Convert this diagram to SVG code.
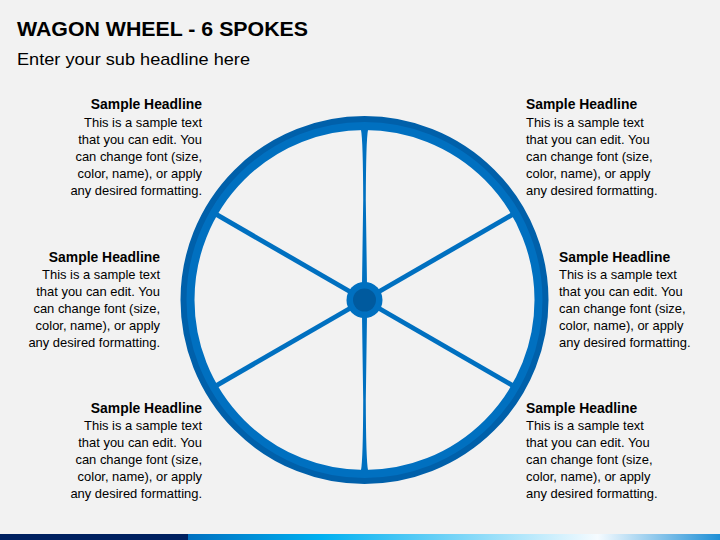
<svg xmlns="http://www.w3.org/2000/svg" width="720" height="540" viewBox="0 0 720 540">
  <defs>
    <linearGradient id="barGrad" x1="0" y1="0" x2="1" y2="0">
      <stop offset="0" stop-color="#0070C0"/>
      <stop offset="0.25" stop-color="#00B0F0"/>
      <stop offset="0.77" stop-color="#F5FBFF"/>
      <stop offset="1" stop-color="#1E8FD6"/>
    </linearGradient>
    <style>
      .title { font-family: "Liberation Sans", Arial, sans-serif; font-weight: bold; font-size: 21px; fill: #000; }
      .sub { font-family: "Liberation Sans", Arial, sans-serif; font-size: 17px; fill: #000; }
      .hd { font-family: "Liberation Sans", Arial, sans-serif; font-weight: bold; font-size: 13.9px; fill: #000; }
      .bd { font-family: "Liberation Sans", Arial, sans-serif; font-size: 12.95px; fill: #000; }
      .spoke { stroke: #0070C0; stroke-width: 4.8; stroke-linecap: butt; fill: none; }
      .vspoke { fill: #0070C0; }
    </style>
  </defs>

  <rect x="0" y="0" width="720" height="540" fill="#F2F2F2"/>

  <text class="title" x="17" y="36" textLength="291" lengthAdjust="spacingAndGlyphs">WAGON WHEEL - 6 SPOKES</text>
  <text class="sub" x="17" y="65" textLength="233" lengthAdjust="spacingAndGlyphs">Enter your sub headline here</text>

  <g id="wheel">
    <circle cx="364.5" cy="300" r="180.5" fill="none" stroke="#0060AA" stroke-width="7"/>
    <circle cx="364.5" cy="300" r="174" fill="none" stroke="#0070C0" stroke-width="8"/>
    <g id="spokes">
      <path class="vspoke" d="M361 130 L368 130 Q366 140 365.8 200 L367 284 L362 284 L363.2 200 Q363 140 361 130 Z"/>
      <path class="vspoke" d="M361 470 L368 470 Q366 460 365.8 400 L367 316 L362 316 L363.2 400 Q363 460 361 470 Z"/>
      <line class="spoke" x1="364.5" y1="300" x2="215" y2="213.7"/>
      <line class="spoke" x1="364.5" y1="300" x2="514" y2="213.7"/>
      <line class="spoke" x1="364.5" y1="300" x2="215" y2="386.3"/>
      <line class="spoke" x1="364.5" y1="300" x2="514" y2="386.3"/>
    </g>
    <circle cx="364.5" cy="300" r="18" fill="#0070C0"/>
    <circle cx="364.5" cy="300" r="11.5" fill="#005A9E"/>
  </g>

  <g id="block-top-left" text-anchor="end">
    <text class="hd" x="202" y="109">Sample Headline</text>
    <text class="bd" x="202" y="127">This is a sample text</text>
    <text class="bd" x="202" y="144">that you can edit. You</text>
    <text class="bd" x="202" y="161">can change font (size,</text>
    <text class="bd" x="202" y="178">color, name), or apply</text>
    <text class="bd" x="202" y="195">any desired formatting.</text>
  </g>

  <g id="block-mid-left" text-anchor="end">
    <text class="hd" x="160" y="262">Sample Headline</text>
    <text class="bd" x="160" y="279">This is a sample text</text>
    <text class="bd" x="160" y="296">that you can edit. You</text>
    <text class="bd" x="160" y="313">can change font (size,</text>
    <text class="bd" x="160" y="330">color, name), or apply</text>
    <text class="bd" x="160" y="347">any desired formatting.</text>
  </g>

  <g id="block-bottom-left" text-anchor="end">
    <text class="hd" x="202" y="413">Sample Headline</text>
    <text class="bd" x="202" y="430">This is a sample text</text>
    <text class="bd" x="202" y="447">that you can edit. You</text>
    <text class="bd" x="202" y="464">can change font (size,</text>
    <text class="bd" x="202" y="481">color, name), or apply</text>
    <text class="bd" x="202" y="498">any desired formatting.</text>
  </g>

  <g id="block-top-right">
    <text class="hd" x="526" y="109">Sample Headline</text>
    <text class="bd" x="526" y="127">This is a sample text</text>
    <text class="bd" x="526" y="144">that you can edit. You</text>
    <text class="bd" x="526" y="161">can change font (size,</text>
    <text class="bd" x="526" y="178">color, name), or apply</text>
    <text class="bd" x="526" y="195">any desired formatting.</text>
  </g>

  <g id="block-mid-right">
    <text class="hd" x="559" y="262">Sample Headline</text>
    <text class="bd" x="559" y="279">This is a sample text</text>
    <text class="bd" x="559" y="296">that you can edit. You</text>
    <text class="bd" x="559" y="313">can change font (size,</text>
    <text class="bd" x="559" y="330">color, name), or apply</text>
    <text class="bd" x="559" y="347">any desired formatting.</text>
  </g>

  <g id="block-bottom-right">
    <text class="hd" x="526" y="413">Sample Headline</text>
    <text class="bd" x="526" y="430">This is a sample text</text>
    <text class="bd" x="526" y="447">that you can edit. You</text>
    <text class="bd" x="526" y="464">can change font (size,</text>
    <text class="bd" x="526" y="481">color, name), or apply</text>
    <text class="bd" x="526" y="498">any desired formatting.</text>
  </g>

  <g id="bottom-bar">
    <rect x="0" y="534" width="188" height="6" fill="#002060"/>
    <rect x="188" y="534" width="532" height="6" fill="url(#barGrad)"/>
  </g>
</svg>
